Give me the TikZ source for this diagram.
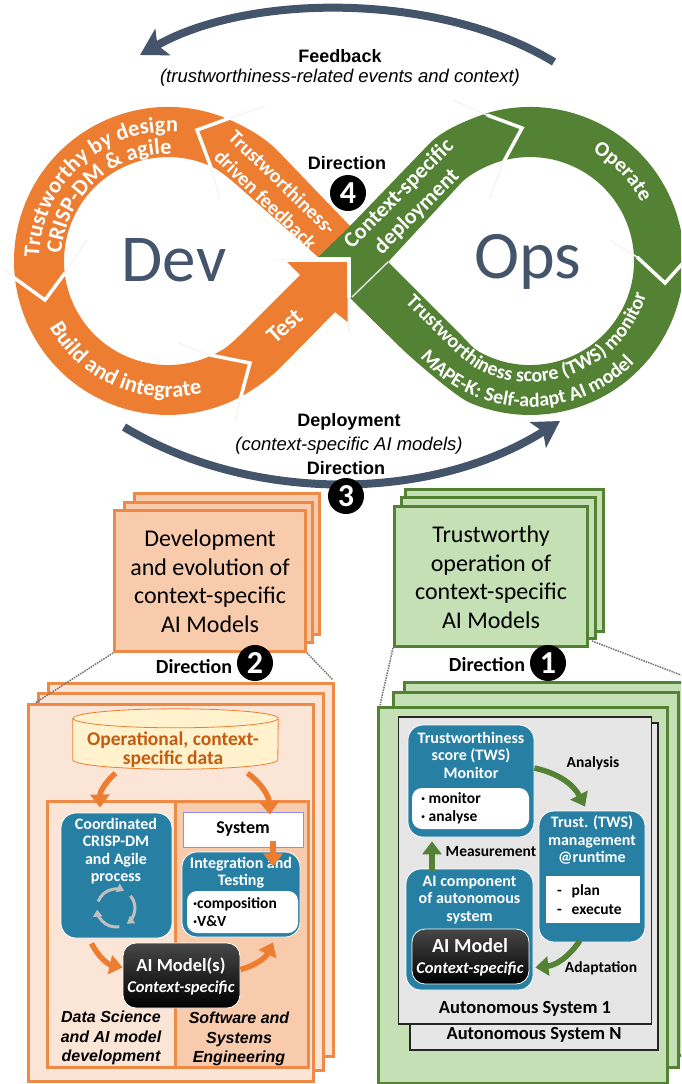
\documentclass[tikz,border=0pt]{standalone}
\usepackage{fontspec}
\usepackage{xcolor}
\setmainfont{Carlito}
\newfontfamily\arialfont{Liberation Sans}
\usetikzlibrary{arrows.meta,positioning,decorations.text}

\definecolor{devorange}{HTML}{ED7D31}
\definecolor{opsgreen}{HTML}{548235}
\definecolor{slate}{HTML}{44546A}
\definecolor{tealbox}{HTML}{2780A4}
\definecolor{peach}{HTML}{F8CBAD}
\definecolor{lightpeach}{HTML}{FBE5D6}
\definecolor{leaf}{HTML}{C5E0B4}
\definecolor{panelgray}{HTML}{E7E6E6}
\definecolor{cream}{HTML}{FFF2CC}
\definecolor{rust}{HTML}{C55A11}

\newcommand{\bandfont}{\fontsize{20}{24}\selectfont\bfseries}
\newcommand{\arcfont}{\fontsize{22.5}{26}\selectfont\bfseries}
\newcommand{\operatefont}{\fontsize{21}{26}\selectfont\bfseries}
\newcommand{\smallband}{\fontsize{20}{22}\selectfont\bfseries}
\newcommand{\mapefont}{\fontsize{20}{22}\selectfont\bfseries}

\tikzset{
	chevron/.style = {draw=white, line width=3.5pt, line join=miter},
	ghost/.style = {draw=black!4, line width=1.5pt},
	bandtext/.style = {text=white, font=\bandfont, align=center, inner sep=0pt},
	trackarrow/.style = {draw=slate, line width=8pt, -{Stealth[length=26pt,width=30pt,inset=6pt]}},
	headline/.style = {font=\arialfont\fontsize{18}{20}\selectfont\bfseries, inner sep=0pt},
	subline/.style = {font=\arialfont\fontsize{18.5}{20}\selectfont\itshape, inner sep=0pt},
	dirlabel/.style = {font=\fontsize{20}{24}\selectfont\bfseries, inner sep=0pt},
	dirdot/.style = {circle, fill=black, text=white, minimum size=36pt, inner sep=0pt, font=\fontsize{32}{36}\selectfont\bfseries},
	devsheet/.style = {draw=devorange!90!white, fill=peach, line width=3pt},
	opssheet/.style = {draw=opsgreen, fill=leaf, line width=3pt},
	sheettext/.style = {align=center, inner sep=0pt, font=\fontsize{24}{28.5}\selectfont},
	zoomline/.style = {draw=black!55, line width=1.5pt, densely dotted},
	bluebox/.style = {draw=white, fill=tealbox, line width=0.8pt, rounded corners=15pt},
	bluetext/.style = {text=white, align=center, inner sep=0pt, font=\fontsize{16}{17.5}\selectfont\bfseries},
	whitebox/.style = {draw=none, fill=white, rounded corners=10pt},
	itemtext/.style = {align=left, inner sep=0pt, font=\fontsize{15.5}{18.5}\selectfont\bfseries},
	modelbox/.style = {draw=white, line width=0.8pt, rounded corners=13pt, top color=black!72, middle color=black, bottom color=black},
	modeltext/.style = {text=white, align=center, inner sep=0pt, font=\fontsize{18.5}{21}\selectfont\bfseries},
	scripttext/.style = {font=\arialfont\fontsize{16}{19.3}\selectfont\bfseries\itshape, align=center, inner sep=0pt},
	flow/.style = {color=devorange, line width=5.5pt, -{Triangle[length=13pt,width=19pt]}},
	greenflow/.style = {color=opsgreen, line width=5.5pt, -{Triangle[length=13pt,width=19pt]}},
	systext/.style = {inner sep=0pt, font=\fontsize{18}{21}\selectfont\bfseries},
	flowlabel/.style = {inner sep=0pt, font=\fontsize{15.5}{18}\selectfont\bfseries},
	graypanel/.style = {draw=black!85, fill=panelgray, line width=1.2pt}
}

\begin{document}
\begin{tikzpicture}[x=1pt,y=1pt]
	\clip (0,0) rectangle (681,-1084);

	% the two loops
	\fill[devorange] (350,-226) -- (277,-150)
		.. controls (263,-136) and (241,-124) .. (222.2,-116.8)
		arc[start angle=69.4,end angle=300,radius=154pt]
		.. controls (259,-386) and (272,-376) .. (280,-368)
		-- (335,-312) -- (347.5,-322) -- (347.5,-262) -- (287,-262) -- (300,-275) -- (240,-335)
		.. controls (232,-343) and (225,-349) .. (217.3,-352.6)
		arc[start angle=298.3,end angle=65.4,radius=104pt]
		.. controls (221,-171) and (231,-180) .. (238,-186)
		-- (318,-257) -- cycle;
	\fill[opsgreen] (350,-226) -- (430,-143)
		.. controls (444,-129) and (470,-119) .. (487,-113.1)
		arc[start angle=106.2,end angle=-113,radius=154pt]
		.. controls (456,-397) and (410,-357) .. (400,-347)
		-- (350,-298) -- (388,-262) -- (463,-337)
		.. controls (470,-344) and (472.6,-348) .. (479.6,-352)
		arc[start angle=241,end angle=465,radius=104pt]
		.. controls (489,-164) and (470.5,-173.6) .. (462,-182)
		-- (388,-262) -- (350,-298) -- (351,-257) -- (318,-257) -- cycle;

	\draw[ghost] (230,-118) -- (265,-106) (212,-170) -- (220,-200);
	\draw[ghost] (13,-277) -- (5,-270) (65,-273) -- (87,-240);
	\draw[ghost] (210,-355) -- (178,-343) (240,-400) -- (235,-423);
	\draw[ghost] (487,-115) -- (453,-100) (503,-163) -- (490,-198);
	\draw[ghost] (637,-257) -- (610,-240);
	\draw[ghost] (318,-259.5) -- (275,-259.5) (349,-298) -- (349,-333);

	\draw[chevron] (230,-118) -- (197,-130) -- (212,-170);
	\draw[chevron] (13,-277) -- (45,-300) -- (65,-273);
	\draw[chevron] (210,-355) -- (250,-363) -- (240,-400);
	\draw[chevron] (487,-115) -- (522,-128) -- (503,-163);
	\draw[chevron] (637,-257) -- (665,-283) -- (683,-263);
	\draw[white, line width=4pt, line join=miter] (316,-259.5) -- (349,-259.5) -- (349,-298);
	\draw[black!12!white, line width=1.5pt] (388,-262) -- (352,-297);

	% text on the loops
	\path[decorate, decoration={text along path, text align=center,
		text={|\arcfont\color{white}|Trustworthy by design}}]
		(168,-261) ++(180:129pt) arc[start angle=180,end angle=84,radius=129pt];
	\path[decorate, decoration={text along path, text align=center,
		text={|\arcfont\color{white}|CRISP-DM {\&} agile}}]
		(168,-261) ++(180:107pt) arc[start angle=180,end angle=84,radius=107pt];
	\path[decorate, decoration={text along path, text align=center,
		text={|\arcfont\color{white}|Build and integrate}}]
		(168,-261) ++(197:136pt) arc[start angle=197,end angle=297,radius=136pt];
	\path[decorate, decoration={text along path, text align=center,
		text={|\operatefont\color{white}|Operate}}]
		(530,-261) ++(84:126pt) arc[start angle=84,end angle=4,radius=126pt];
	\path[decorate, decoration={text along path,
		text={|\smallband\color{white}|Trustworthiness score (TWS) monitor}}]
		(405,-302) -- (447,-344) .. controls (458,-355) and (474,-369.5) .. (488.6,-374.7)
		arc[start angle=250,end angle=360,radius=121pt];
	\path[decorate, decoration={text along path,
		text={|\mapefont\color{white}|MAPE-K: Self-adapt AI model}}]
		(420,-357) .. controls (440,-380) and (460,-392) .. (480,-398.2)
		arc[start angle=250,end angle=335,radius=146pt];

	\node (feedbackband) [bandtext, rotate=-44] at (274,-191) {Trustworthiness-\\driven feedback};
	\node (deployband) [bandtext, font=\fontsize{22}{25}\selectfont\bfseries, rotate=45] at (408,-203) {Context-specific\\deployment};
	\node (testband) [bandtext, font=\fontsize{24}{26}\selectfont\bfseries, rotate=42] at (285,-326) {Test};
	\node (devlabel) [inner sep=0pt, text=slate, font=\fontsize{67}{70}\selectfont] at (174,-260) {Dev};
	\node (opslabel) [inner sep=0pt, text=slate, font=\fontsize{68}{70}\selectfont] at (528,-262) {Ops};

	% arrows around the loops
	\coordinate (feedbackstart) at (554,-62);
	\coordinate (feedbackend) at (140,-55);
	\coordinate (deploystart) at (124,-427);
	\coordinate (deployend) at (560,-421);
	\draw[trackarrow] (feedbackstart) .. controls (440,7.5) and (250,7.5) .. (feedbackend);
	\draw[trackarrow] (deploystart) .. controls (250,-503) and (430,-503) .. (deployend);

	\node (feedback) [headline] at (340,-56) {Feedback};
	\node (feedbacksub) [subline] at (340,-78) {(trustworthiness-related events and context)};
	\node (deployment) [headline] at (349,-422) {Deployment};
	\node (deploymentsub) [subline] at (349,-446) {(context-specific AI models)};

	\node (dirfour) [headline] at (347,-163) {Direction};
	\node (dotfour) [dirdot] at (348,-193) {4};
	\node (dirthree) [headline] at (346,-468) {Direction};
	\node (dotthree) [dirdot] at (346,-496) {3};

	% top stacks
	\node (devback) [devsheet, minimum width=185pt, minimum height=141pt] at (227,-564) {};
	\node (devmid) [devsheet, minimum width=188pt, minimum height=140pt] at (218.5,-572.5) {};
	\node (devfront) [devsheet, minimum width=191pt, minimum height=141pt] at (210,-581) {};
	\node (devtitle) [sheettext] at (210,-581) {Development\\and evolution of\\context-specific\\AI Models};

	\node (opsback) [opssheet, minimum width=198pt, minimum height=142pt] at (504.5,-560.5) {};
	\node (opsmid) [opssheet, minimum width=194pt, minimum height=141pt] at (498.5,-568) {};
	\node (opsfront) [opssheet, minimum width=193pt, minimum height=140pt] at (491,-576.5) {};
	\node (opstitle) [sheettext] at (491,-577) {Trustworthy\\operation of\\context-specific\\AI Models};

	\node (dirtwo) [dirlabel] at (194,-667) {Direction};
	\node (dottwo) [dirdot] at (255,-663) {2};
	\node (dirone) [dirlabel] at (487,-665) {Direction};
	\node (dotone) [dirdot] at (548,-663) {1};

	% lower left stack
	\coordinate (devzoomleft) at (35,-703);
	\coordinate (devzoomright) at (333,-680);
	\node (lowdevback) [devsheet, fill=lightpeach, minimum width=285pt, minimum height=373pt] at (191,-870) {};
	\node (lowdevmid) [devsheet, fill=lightpeach, minimum width=285pt, minimum height=377pt] at (181,-882) {};
	\node (lowdevfront) [devsheet, fill=lightpeach, minimum width=285pt, minimum height=377pt] at (171,-893) {};
	\draw[zoomline] (devfront.south west) -- (devzoomleft);
	\draw[zoomline] (devfront.south east) -- (devzoomright);

	\node (opdata) [minimum width=205pt, minimum height=60pt, inner sep=0pt] at (175.5,-739) {};
	\draw[draw=devorange, fill=cream, line width=0.8pt] ([yshift=-9.5pt]opdata.north west)
		-- ([yshift=9.5pt]opdata.south west) arc[start angle=180,end angle=360,x radius=102.5pt,y radius=9.5pt]
		-- ([yshift=-9.5pt]opdata.north east) arc[start angle=0,end angle=180,x radius=102.5pt,y radius=9.5pt]
		arc[start angle=180,end angle=360,x radius=102.5pt,y radius=9.5pt];
	\node (opdatatext) [inner sep=0pt, align=center, text=rust, font=\fontsize{19.5}{19.5}\selectfont\bfseries] at (173,-749.5) {Operational, context-\\specific data};

	\node (dspanel) [devsheet, fill=lightpeach, minimum width=128pt, minimum height=266pt] at (111,-934) {};
	\node (sepanel) [devsheet, minimum width=133pt, minimum height=266pt] at (241.5,-934) {};

	\node (crisp) [bluebox, minimum width=111pt, minimum height=125pt] at (116.5,-875.5) {};
	\node (crisptext) [bluetext] at (116,-851) {Coordinated\\CRISP-DM\\and Agile\\process};
	\foreach \from in {160,40,280}
		\draw[black!25, line width=3pt, -{Triangle[length=7pt,width=9pt]}] (116,-908) ++(\from:19pt) arc[start angle=\from,delta angle=-95,radius=19pt];

	\node (system) [draw=blue!45!white, fill=white, line width=0.8pt, minimum width=120pt, minimum height=35pt, inner sep=0pt, systext] at (243,-829.5) {System};
	\node (integration) [bluebox, minimum width=118pt, minimum height=85pt] at (241,-894.5) {};
	\node (integrationtext) [bluetext] at (241,-872.5) {Integration and\\Testing};
	\node (integrationlist) [whitebox, minimum width=111pt, minimum height=42pt] at (242.5,-912) {};
	\node (integrationitems) [itemtext, font=\fontsize{15.5}{17.5}\selectfont\bfseries, right=0pt of integrationlist.west, xshift=6pt] {·composition\\·V\&V};

	\node (aimodels) [modelbox, minimum width=117pt, minimum height=65pt] at (181.5,-975.5) {};
	\node (aimodelstext) [modeltext] at (181,-976) {AI Model(s)\\{\fontsize{16.5}{21}\selectfont\itshape Context-specific}};

	\node (dsnote) [scripttext] at (111,-1038) {Data Science\\and AI model\\development};
	\node (senote) [scripttext] at (239,-1039) {Software and\\Systems\\Engineering};

	\path[flow]
		([xshift=-60pt,yshift=-4pt]opdata.south) edge [bend right=25] ([xshift=-11pt,yshift=-8pt]dspanel.north)
		([xshift=72pt,yshift=-4pt]opdata.south) edge [bend left=25] ([xshift=27pt,yshift=-3pt]system.north)
		([xshift=30pt,yshift=6pt]system.south) edge ([xshift=30pt,yshift=-19pt]system.south)
		([xshift=-25pt,yshift=-5pt]crisp.south) edge [bend right=25] ([yshift=8pt]aimodels.west)
		([yshift=6pt]aimodels.east) edge [bend right=25] ([xshift=32pt,yshift=-5pt]integration.south);

	% lower right stack
	\coordinate (opszoomleft) at (380,-705);
	\coordinate (opszoomright) at (681,-675);
	\node (lowopsback) [opssheet, minimum width=286pt, minimum height=373pt] at (547,-868.5) {};
	\node (lowopsmid) [opssheet, minimum width=285pt, minimum height=375pt] at (535.5,-879.5) {};
	\node (lowopsfront) [opssheet, minimum width=289pt, minimum height=376pt] at (522.5,-895) {};
	\draw[zoomline] (opsfront.south west) -- (opszoomleft);
	\draw[zoomline] ([xshift=3pt,yshift=7pt]opsfront.south east) -- (opszoomright);

	\node (systemn) [graypanel, minimum width=248pt, minimum height=327pt] at (534,-886.5) {};
	\node (systemntext) [systext, font=\fontsize{18.5}{21}\selectfont\bfseries] at (534,-1035) {Autonomous System N};
	\node (systemone) [graypanel, minimum width=253pt, minimum height=307pt] at (525,-870.5) {};
	\node (systemonetext) [systext, font=\fontsize{18.5}{21}\selectfont\bfseries] at (525,-1009) {Autonomous System 1};

	\node (monitor) [bluebox, minimum width=126pt, minimum height=112pt] at (471,-781) {};
	\node (monitortext) [bluetext] at (471,-755) {Trustworthiness\\score (TWS)\\Monitor};
	\node (monitorlist) [whitebox, minimum width=117pt, minimum height=41pt] at (470.5,-808.5) {};
	\node (monitoritems) [itemtext, right=0pt of monitorlist.west, xshift=9pt] {· monitor\\· analyse};

	\node (aicomp) [bluebox, minimum width=127pt, minimum height=121pt] at (469.5,-929.5) {};
	\node (aicomptext) [bluetext] at (469.5,-900) {AI component\\of autonomous\\system};
	\node (aimodel) [modelbox, minimum width=117pt, minimum height=55pt] at (470.5,-956.5) {};
	\node (aimodeltext) [modeltext] at (470,-957.5) {\fontsize{20}{21}\selectfont AI Model\\{\fontsize{16.5}{21}\selectfont\itshape Context-specific}};

	\node (trust) [bluebox, minimum width=106pt, minimum height=131pt] at (592,-876.5) {};
	\node (trusttext) [bluetext] at (592,-840) {Trust. (TWS)\\management\\@runtime};
	\node (trustlist) [fill=white, minimum width=94pt, minimum height=47pt, inner sep=0pt] at (593,-899.5) {};
	\node (trustitems) [itemtext, right=0pt of trustlist.west, xshift=11pt] {-\hspace{10pt}plan\\-\hspace{10pt}execute};

	\path[greenflow]
		([xshift=-37.5pt,yshift=-2pt]aicomp.north) edge ([xshift=-39pt,yshift=-4pt]monitor.south)
		([yshift=13pt]monitor.east) edge [bend left=25] ([xshift=-7pt,yshift=4pt]trust.north)
		([xshift=-12pt,yshift=2pt]trust.south) edge [bend left=25] ([xshift=2pt,yshift=-38pt]aicomp.east);

	\node (analysis) [flowlabel] at (593,-763) {Analysis};
	\node (measurement) [flowlabel] at (491,-852) {Measurement};
	\node (adaptation) [flowlabel] at (601,-968) {Adaptation};
\end{tikzpicture}
\end{document}
